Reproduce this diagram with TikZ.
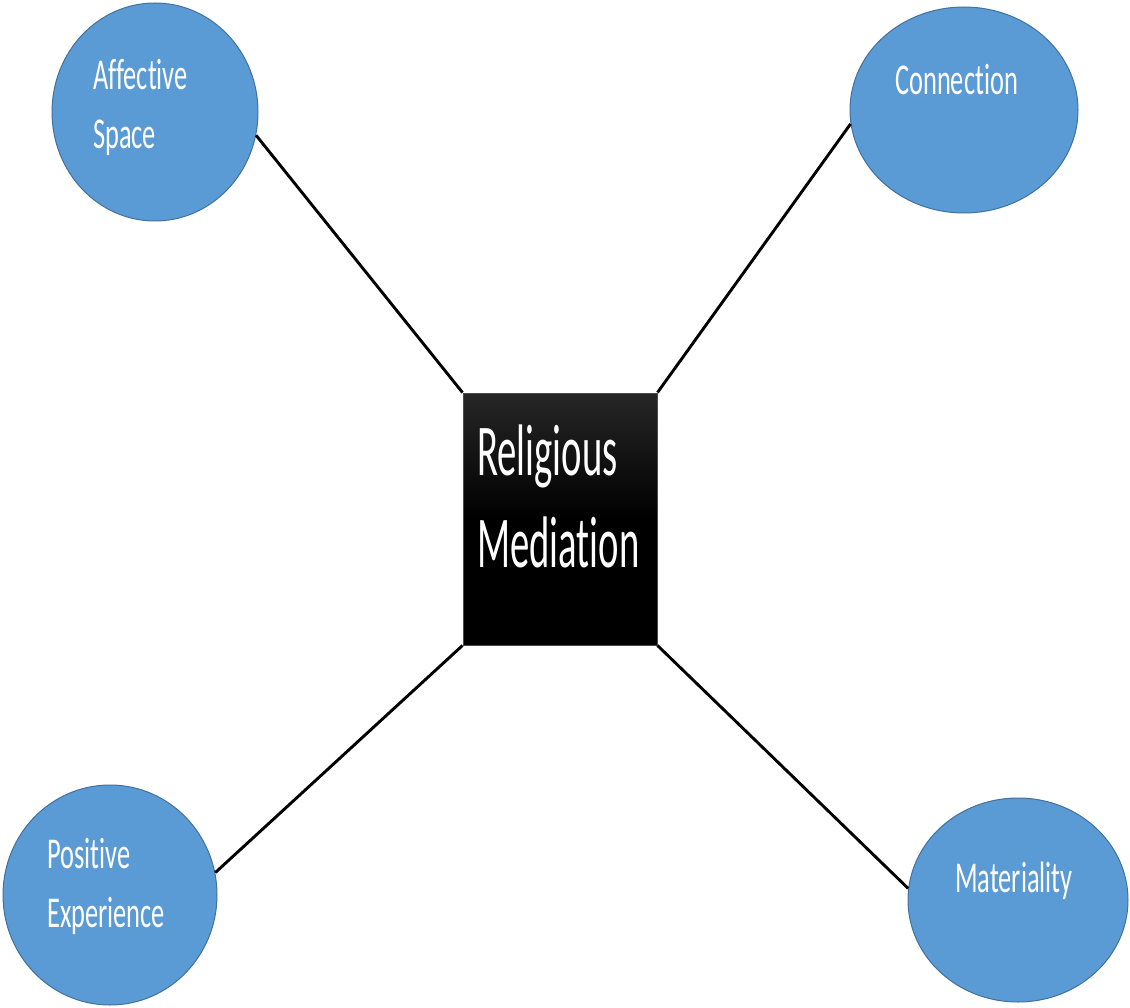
\documentclass[tikz,border=0pt]{standalone}
\usepackage{fontspec}
\usetikzlibrary{shapes.geometric}
\newfontfamily\circfont[FakeStretch=0.6,Ligatures=NoCommon]{Carlito}
\newfontfamily\boxfont[FakeStretch=0.53,Ligatures=NoCommon]{Carlito}
\definecolor{bubble}{HTML}{5B9BD5}
\definecolor{bubbleedge}{HTML}{41719C}
\tikzset{
  bubblenode/.style={ellipse, fill=bubble, draw=bubbleedge, line width=1pt, inner sep=0pt},
  bubbletext/.style={anchor=base west, inner sep=0pt, text=white, align=left,
    font=\circfont\fontsize{44}{59}\selectfont},
  centerbox/.style={rectangle, draw=black!70, line width=1pt, inner sep=0pt,
    top color=black!85, bottom color=black, middle color=black,
    minimum width=194pt, minimum height=252pt},
  centertext/.style={anchor=base west, inner sep=0pt, text=white, align=left,
    font=\boxfont\fontsize{73}{92}\selectfont},
  link/.style={draw=black, line width=2.9pt}
}
\begin{document}
\begin{tikzpicture}[x=1pt, y=-1pt]
\useasboundingbox (0,0) rectangle (1130,1008);
\clip (0,0) rectangle (1130,1008);
\fill[white] (0,0) rectangle (1130,1008);

\node[centerbox] (box) at (560,519) {};
\node[bubblenode, minimum width=206pt, minimum height=218pt] (aff) at (155,112) {};
\node[bubblenode, minimum width=228pt, minimum height=206pt] (con) at (964,110) {};
\node[bubblenode, minimum width=214pt, minimum height=220pt] (pos) at (110,895) {};
\node[bubblenode, minimum width=220pt, minimum height=204pt] (mat) at (1018,900) {};

\draw[link] (aff.-13) -- (box.north west);
\draw[link] (con.187) -- (box.north east);
\draw[link] (pos.12) -- (box.south west);
\draw[link] (mat.174) -- (box.south east);

\node[centertext] (boxlabel) at (477,567) {Religious\\Mediation};
\node[bubbletext] (afflabel) at (93,149) {Affective\\Space};
\node[bubbletext] (conlabel) at (895,95) {Connection};
\node[bubbletext] (poslabel) at (47,927) {Positive\\Experience};
\node[bubbletext] (matlabel) at (955,892) {Materiality};
\end{tikzpicture}
\end{document}
